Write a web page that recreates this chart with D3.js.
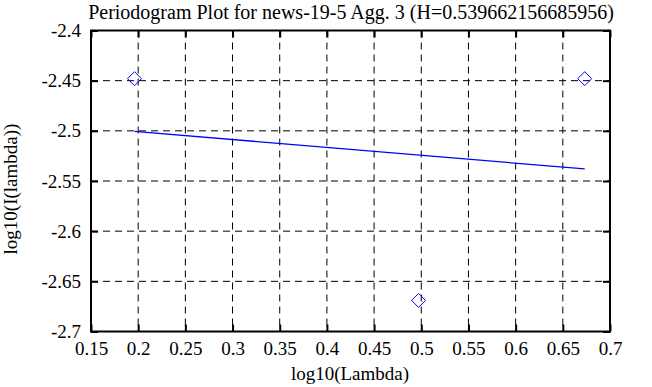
<!DOCTYPE html>
<html>
<head>
<meta charset="utf-8">
<script src="https://cdn.jsdelivr.net/npm/d3@7"></script>
<style>
  body { margin: 0; background: #fff; }
  svg text { font-family: "Liberation Serif", "Times New Roman", serif !important; fill: #000; }
</style>
</head>
<body>
<div id="chart"></div>
<script>
const title = "Periodogram Plot for news-19-5 Agg. 3 (H=0.539662156685956)";
const xLabel = "log10(Lambda)";
const yLabel = "log10(I(lambda))";

// periodogram points
const pointX = [0.1961, 0.4971, 0.6732];
const pointY = [-2.448, -2.669, -2.448];

// fitted line
const fitX = [0.1961, 0.6732];
const fitY = [-2.5005, -2.538];

const xTicks = [0.15, 0.2, 0.25, 0.3, 0.35, 0.4, 0.45, 0.5, 0.55, 0.6, 0.65, 0.7];
const yTicks = [-2.4, -2.45, -2.5, -2.55, -2.6, -2.65, -2.7];

const width = 652, height = 387;
const margin = { left: 91, right: 42, top: 30.5, bottom: 55.5 };
const innerW = width - margin.left - margin.right;
const innerH = height - margin.top - margin.bottom;

const svg = d3.select("#chart").append("svg")
    .attr("width", width)
    .attr("height", height);

const x = d3.scaleLinear().domain([0.15, 0.7]).range([margin.left, margin.left + innerW]);
const y = d3.scaleLinear().domain([-2.7, -2.4]).range([margin.top + innerH, margin.top]);

// grid
svg.append("g").selectAll("line")
    .data(xTicks.slice(1, -1))
    .enter().append("line")
    .attr("x1", d => x(d)).attr("x2", d => x(d))
    .attr("y1", margin.top).attr("y2", margin.top + innerH)
    .attr("stroke", "#000").attr("stroke-width", 1)
    .attr("stroke-dasharray", "7,5");

svg.append("g").selectAll("line")
    .data(yTicks.slice(1, -1))
    .enter().append("line")
    .attr("y1", d => y(d)).attr("y2", d => y(d))
    .attr("x1", margin.left).attr("x2", margin.left + innerW)
    .attr("stroke", "#000").attr("stroke-width", 1)
    .attr("stroke-dasharray", "7,5");

// axes with inward ticks
const fmt = d => String(+d.toFixed(2));
const xAxis = svg.append("g")
    .attr("transform", `translate(0,${margin.top + innerH})`)
    .call(d3.axisBottom(x).tickValues(xTicks).tickFormat(fmt).tickSizeInner(-7).tickSizeOuter(0).tickPadding(10));
const xAxisTop = svg.append("g")
    .attr("transform", `translate(0,${margin.top})`)
    .call(d3.axisTop(x).tickValues(xTicks).tickFormat("").tickSizeInner(-7).tickSizeOuter(0));
const yAxis = svg.append("g")
    .attr("transform", `translate(${margin.left},0)`)
    .call(d3.axisLeft(y).tickValues(yTicks).tickFormat(fmt).tickSizeInner(-7).tickSizeOuter(0).tickPadding(10));
const yAxisRight = svg.append("g")
    .attr("transform", `translate(${margin.left + innerW},0)`)
    .call(d3.axisRight(y).tickValues(yTicks).tickFormat("").tickSizeInner(-7).tickSizeOuter(0));

[xAxis, xAxisTop, yAxis, yAxisRight].forEach(a => {
    a.attr("font-family", null).attr("font-size", null);
    a.select(".domain").remove();
    a.selectAll(".tick line").attr("stroke", "#000").attr("stroke-width", 2);
    a.selectAll("text").style("font-size", "19px");
});
yAxis.selectAll("text").attr("dy", "0.32em");

// frame
svg.append("rect")
    .attr("x", margin.left).attr("y", margin.top)
    .attr("width", innerW).attr("height", innerH)
    .attr("fill", "none").attr("stroke", "#000").attr("stroke-width", 2);

// fit line
const line = d3.line().x(d => x(d[0])).y(d => y(d[1]));
svg.append("path")
    .datum(d3.zip(fitX, fitY))
    .attr("d", line)
    .attr("fill", "none").attr("stroke", "#0000ff").attr("stroke-width", 1.3);

// diamonds
svg.append("g").selectAll("path")
    .data(d3.zip(pointX, pointY))
    .enter().append("path")
    .attr("transform", d => `translate(${x(d[0])},${y(d[1])})`)
    .attr("d", "M0,-7L7,0L0,7L-7,0Z")
    .attr("fill", "none").attr("stroke", "#0000ff").attr("stroke-width", 1);

// labels
svg.append("text")
    .attr("x", 351).attr("y", 19)
    .attr("text-anchor", "middle").style("font-size", "20px")
    .text(title);

svg.append("text")
    .attr("x", 350).attr("y", 380)
    .attr("text-anchor", "middle").style("font-size", "19px")
    .text(xLabel);

svg.append("text")
    .attr("transform", `translate(17,189) rotate(-90)`)
    .attr("text-anchor", "middle").style("font-size", "19px")
    .text(yLabel);
</script>
</body>
</html>
